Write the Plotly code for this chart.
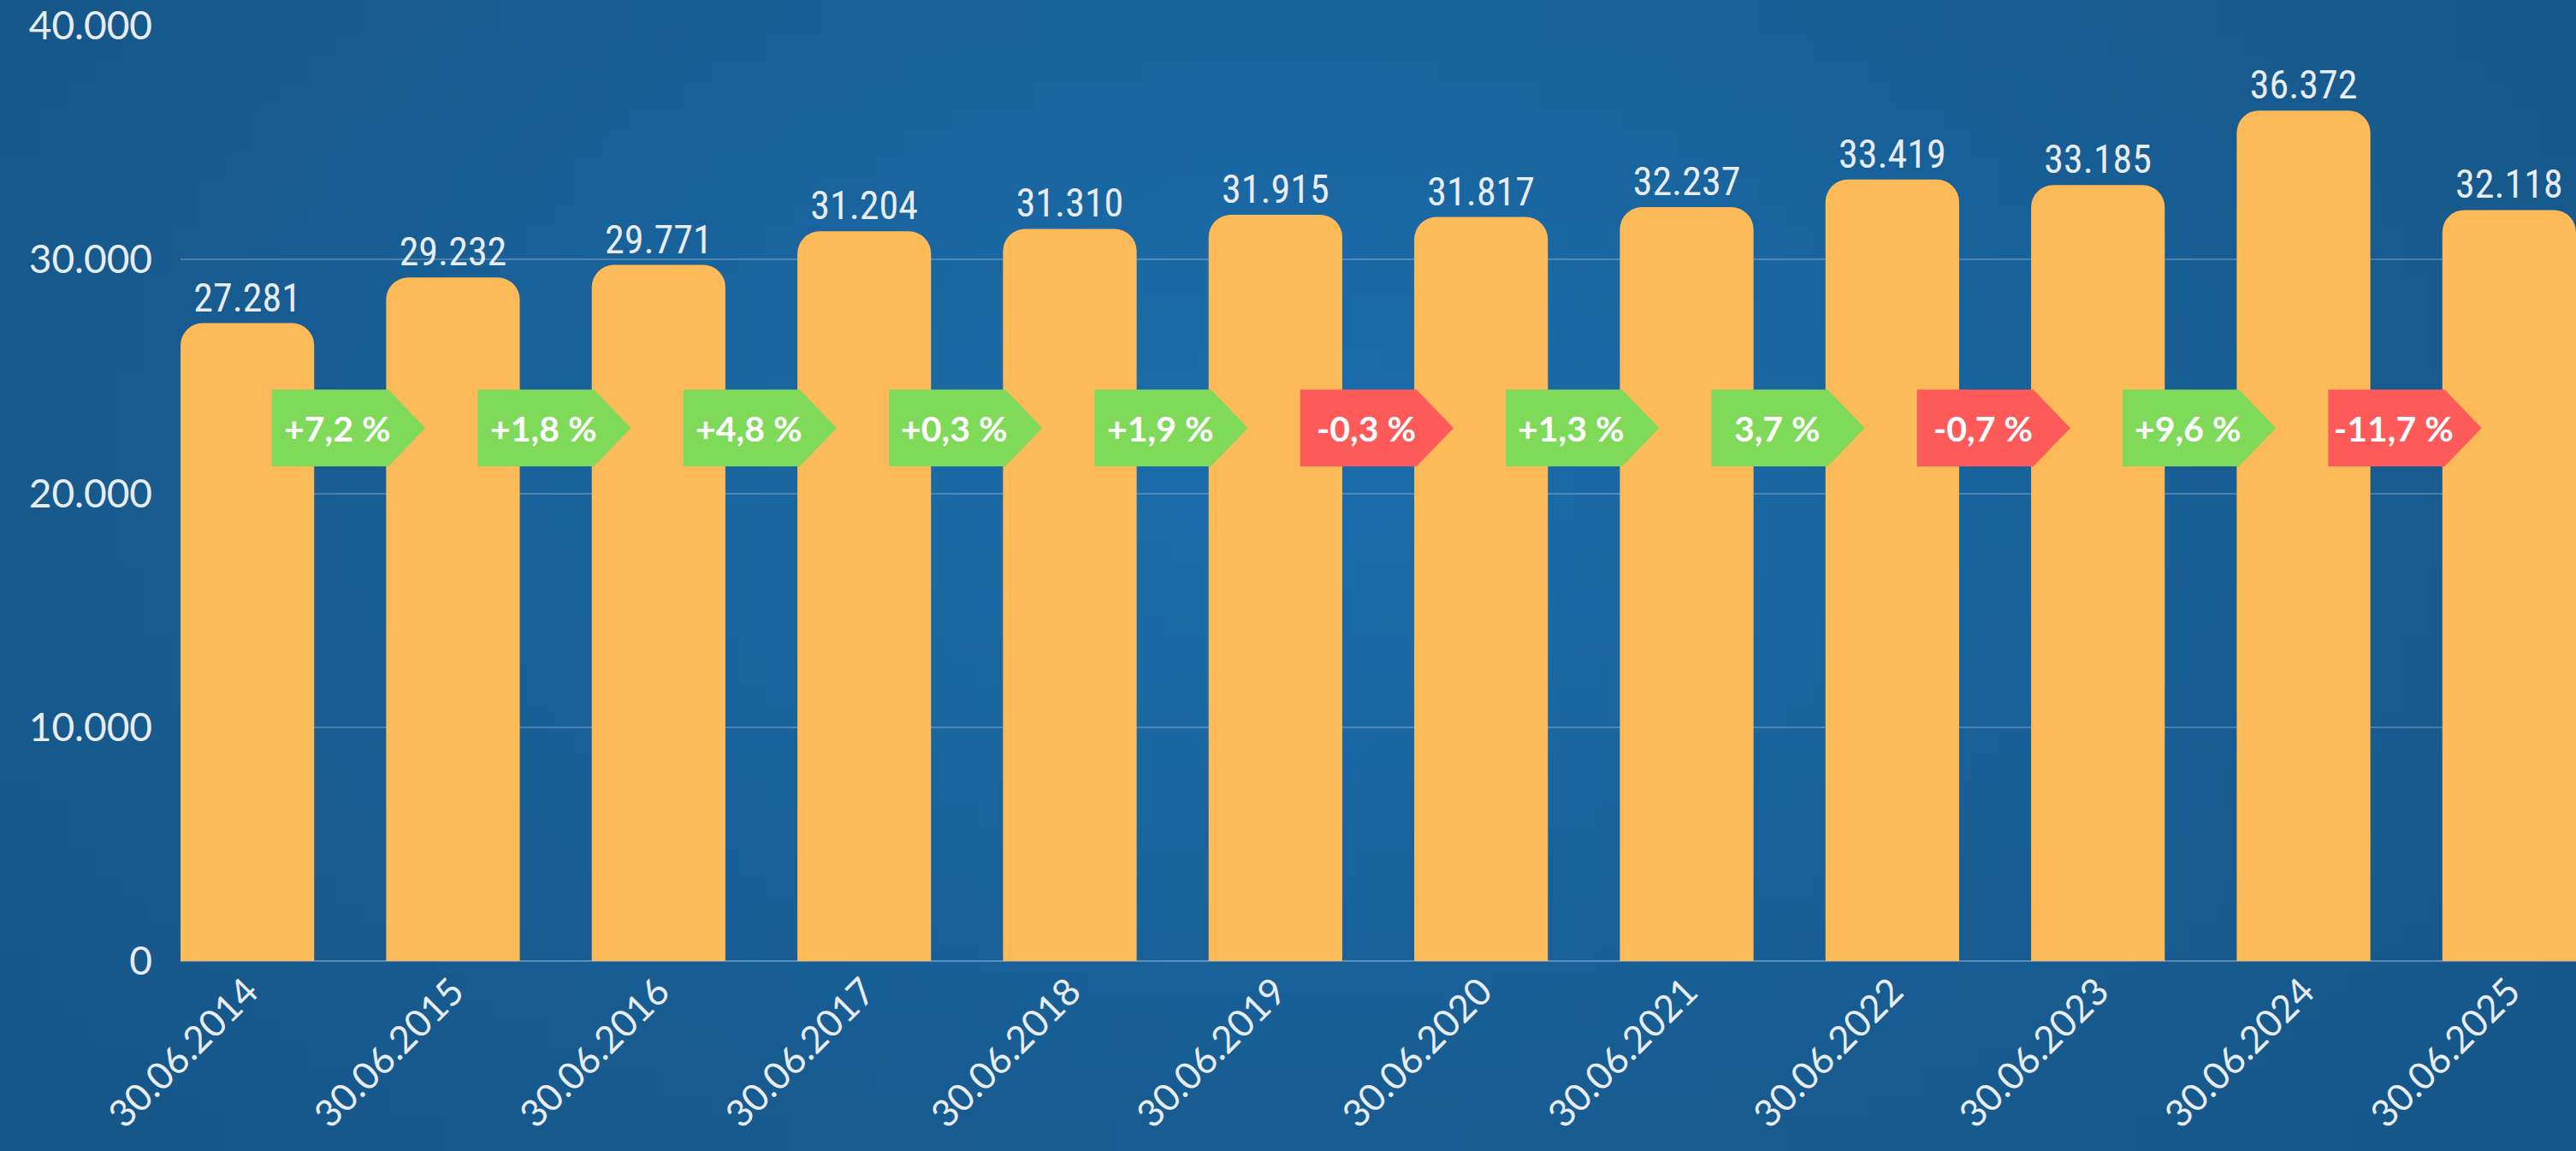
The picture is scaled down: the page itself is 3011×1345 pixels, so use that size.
import base64, struct, zlib, math
import plotly.graph_objects as go

# ---- data ----
dates = ["30.06.2014", "30.06.2015", "30.06.2016", "30.06.2017", "30.06.2018", "30.06.2019",
         "30.06.2020", "30.06.2021", "30.06.2022", "30.06.2023", "30.06.2024", "30.06.2025"]
values = [27281, 29232, 29771, 31204, 31310, 31915, 31817, 32237, 33419, 33185, 36372, 32118]
changes = ["+7,2 %", "+1,8 %", "+4,8 %", "+0,3 %", "+1,9 %", "-0,3 %",
           "+1,3 %", "3,7 %", "-0,7 %", "+9,6 %", "-11,7 %"]
y_ticks = [0, 10000, 20000, 30000, 40000]

# ---- styling ----
W, H = 3011, 1345
ML, MR, MT, MB = 211, 0, 30, 222
BAR = "#FDBA59"
GREEN = "#80DA59"
RED = "#FF5A5A"
TXT = "#E8ECEF"

# background gradient png
def make_png(w, h):
    rows = []
    for j in range(h):
        row = bytearray()
        for i in range(w):
            x = i / (w - 1)
            y = j / (h - 1)
            f = math.exp(-((x - 0.5) / 0.38) ** 2 - ((y - 0.4) / 0.55) ** 2)
            edge = (22, 86, 136)
            cen = (27, 108, 170)
            c = [int(edge[k] + (cen[k] - edge[k]) * f) for k in range(3)]
            row += bytes(c)
        rows.append(b"\x00" + bytes(row))
    raw = b"".join(rows)

    def chunk(t, d):
        return struct.pack(">I", len(d)) + t + d + struct.pack(">I", zlib.crc32(t + d) & 0xffffffff)

    png = (b"\x89PNG\r\n\x1a\n" + chunk(b"IHDR", struct.pack(">IIBBBBB", w, h, 8, 2, 0, 0, 0))
           + chunk(b"IDAT", zlib.compress(raw)) + chunk(b"IEND", b""))
    return "data:image/png;base64," + base64.b64encode(png).decode()

pw = W - ML - MR
ph = H - MT - MB

x = list(range(len(values)))

fig = go.Figure()
fig.add_trace(go.Bar(
    x=x, y=values, width=0.65, marker=dict(color=BAR, line=dict(width=0)),
    texttemplate="%{y:,d}", textposition="outside", cliponaxis=False,
    textfont=dict(family="Liberation Sans Narrow, Roboto Condensed, Arial Narrow, sans-serif", size=46, color=TXT),
    hoverinfo="skip",
))

# percent badges
y0b, y1b = 21150, 24440
ym = (y0b + y1b) / 2
shapes = []
annotations = []
for i, ch in enumerate(changes):
    col = RED if ch.startswith("-") else GREEN
    xs = i + 0.12
    xe = xs + 0.566
    xt = xe + 0.18
    path = f"M {xs},{y0b} L {xe},{y0b} L {xt},{ym} L {xe},{y1b} L {xs},{y1b} Z"
    shapes.append(dict(type="path", path=path, xref="x", yref="y", fillcolor=col,
                       line=dict(width=0), layer="above"))
    annotations.append(dict(x=xs + 0.32, y=ym, xref="x", yref="y", text=f"<b>{ch}</b>",
                            showarrow=False, xanchor="center", yanchor="middle",
                            font=dict(family="Lato, Open Sans, sans-serif", size=41, color="white")))

fig.update_layout(
    width=W, height=H,
    margin=dict(l=ML, r=MR, t=MT, b=MB, pad=0),
    paper_bgcolor="#185E93", plot_bgcolor="rgba(0,0,0,0)",
    separators=",.",
    showlegend=False,
    barcornerradius=26,
    shapes=shapes, annotations=annotations,
    images=[dict(source=make_png(96, 48), xref="paper", yref="paper",
                 x=-ML / pw, y=1 + MT / ph, sizex=W / pw, sizey=H / ph,
                 sizing="stretch", xanchor="left", yanchor="top", layer="below")],
    xaxis=dict(range=[-0.325, 11.325], tickmode="array", tickvals=x, ticktext=dates,
               tickangle=-45, showgrid=False, zeroline=False, showline=False, ticks="",
               tickfont=dict(family="Lato, sans-serif", size=44, color=TXT)),
    yaxis=dict(range=[0, 40000], tickmode="array", tickvals=y_ticks,
               ticktext=[f"{v:,}".replace(",", ".") for v in y_ticks],
               showgrid=True, gridcolor="rgba(255,255,255,0.22)", gridwidth=2,
               zeroline=True, zerolinecolor="rgba(255,255,255,0.3)", zerolinewidth=2,
               showline=False, ticks="", ticklabelstandoff=32,
               tickfont=dict(family="Lato, sans-serif", size=46, color=TXT)),
)

fig.write_html("out.html", config={"displayModeBar": False},
               post_script="document.body.style.margin='0';document.body.style.overflow='hidden';")
